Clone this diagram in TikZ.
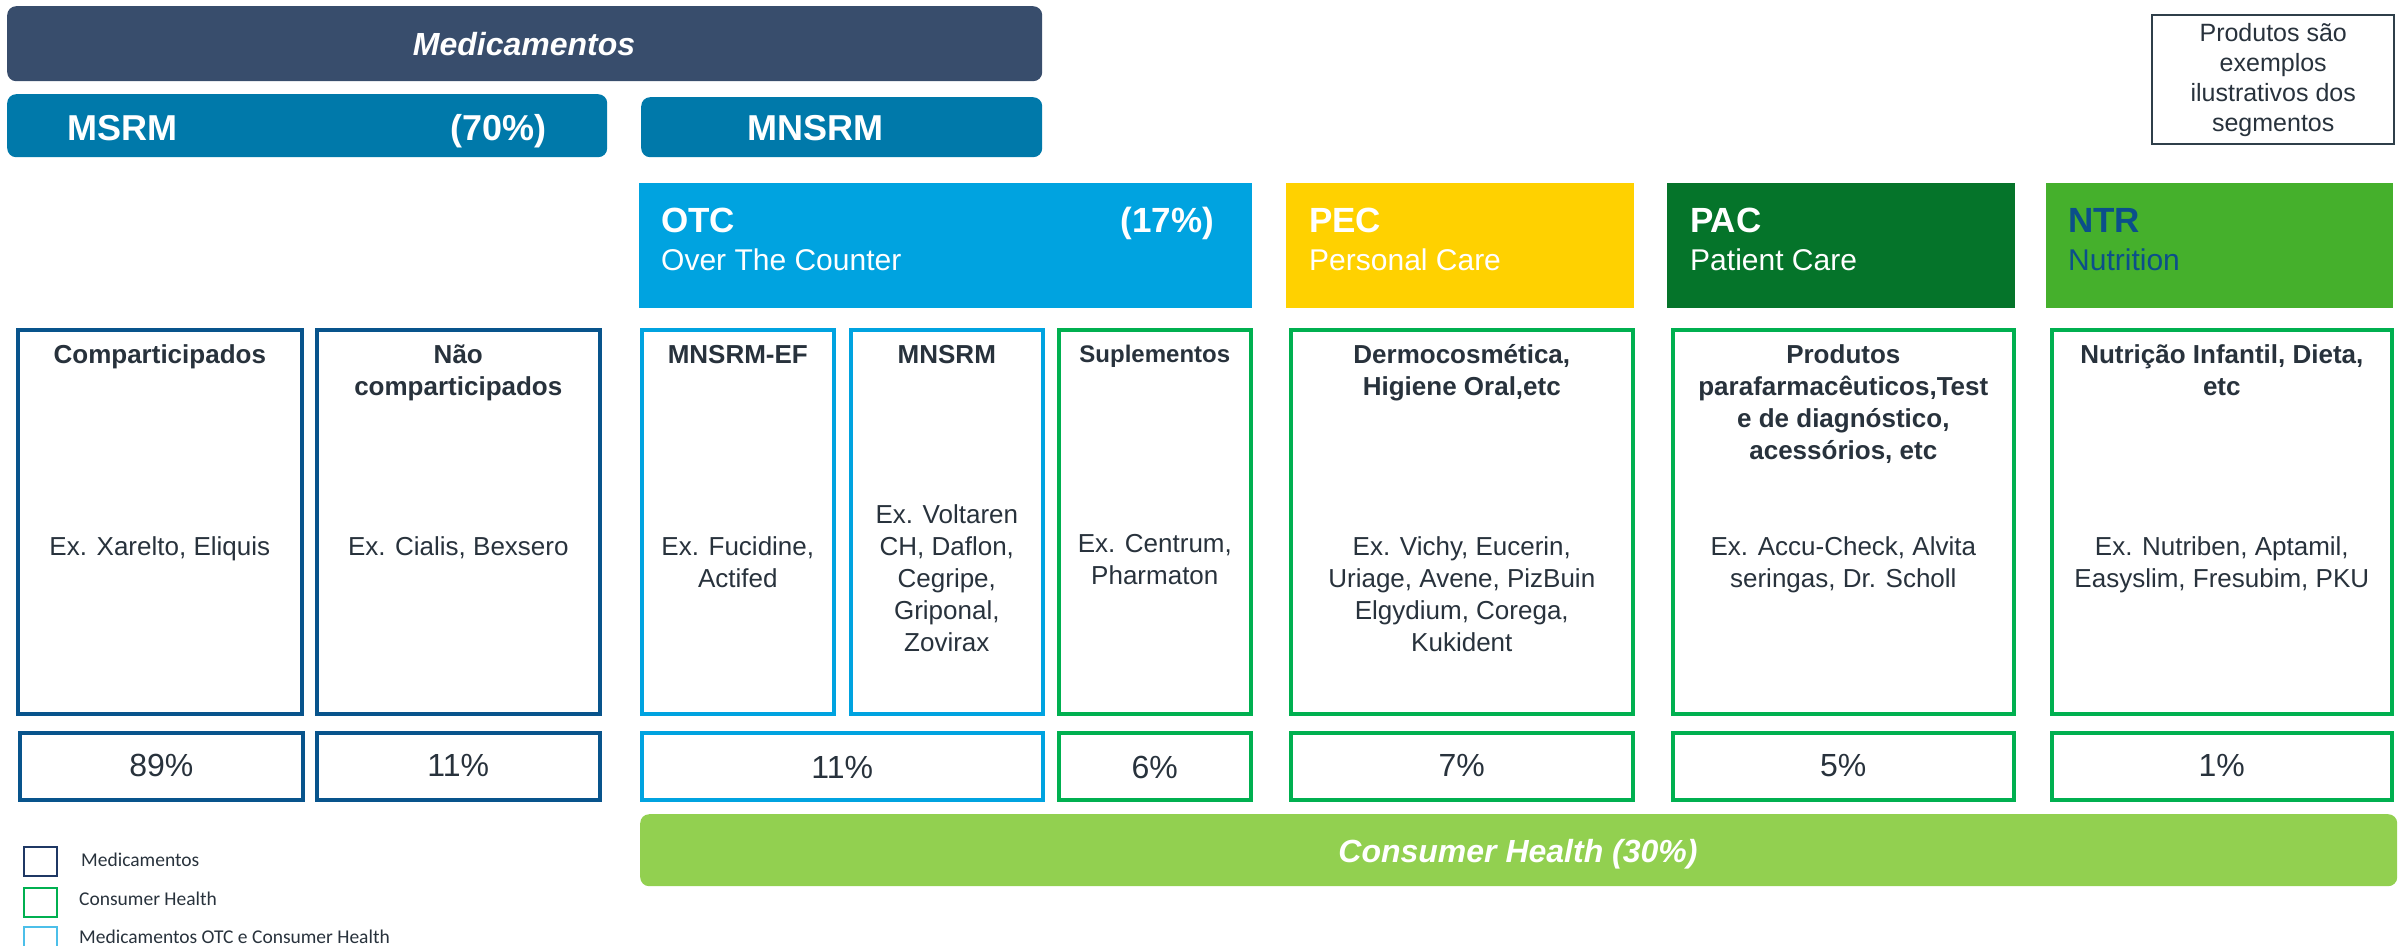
\documentclass[tikz,border=0pt]{standalone}
\usepackage{fontspec}
\setmainfont{Liberation Sans}
\newfontfamily\legfont{Carlito}
\definecolor{txt}{HTML}{28323C}
\definecolor{medbar}{HTML}{384D6C}
\definecolor{msrmc}{HTML}{0079AA}
\definecolor{otcc}{HTML}{00A3E0}
\definecolor{pecc}{HTML}{FFD100}
\definecolor{pacc}{HTML}{05742A}
\definecolor{ntrc}{HTML}{45B02C}
\definecolor{ntrtxt}{HTML}{0B4F8A}
\definecolor{chbar}{HTML}{92D050}
\definecolor{medline}{HTML}{08548C}
\definecolor{navy}{HTML}{1F3864}
\definecolor{blueline}{HTML}{00A3E0}
\definecolor{greenline}{HTML}{00B050}
\definecolor{noteline}{HTML}{2F3F4A}
\tikzset{
  fillbox/.style={draw=none, anchor=north west, inner sep=0pt},
  roundbar/.style={fillbox, rounded corners=9pt},
  outline/.style={draw=#1, line width=3.6pt, fill=white, anchor=north west, inner sep=0pt},
  head/.style={anchor=base, align=center, text=txt, font=\fontsize{26}{32}\selectfont\bfseries, inner sep=0pt},
  body/.style={anchor=base, align=center, text=txt, font=\fontsize{26}{32}\selectfont, inner sep=0pt},
  pct/.style={anchor=base, text=txt, font=\fontsize{32}{38}\selectfont, inner sep=0pt},
  bigw/.style={inner sep=0pt, text=white, font=\fontsize{36}{40}\selectfont\bfseries},
  subw/.style={inner sep=0pt, anchor=base west, text=white, font=\fontsize{30}{34}\selectfont},
  legsq/.style={draw=#1, line width=2.4pt, anchor=north west, inner sep=0pt, minimum width=33pt, minimum height=29pt},
  legtxt/.style={anchor=base west, inner sep=0pt, text=txt, font=\legfont\fontsize{19.5}{22}\selectfont},
}
\begin{document}
\begin{tikzpicture}[x=1pt,y=-1pt]
\useasboundingbox (0,0) rectangle (2405,945);
% top bars
\node[roundbar, fill=medbar, minimum width=1035pt, minimum height=75pt] (medb) at (7,6) {};
\node[anchor=base, inner sep=0pt, text=white, font=\fontsize{32}{36}\selectfont\bfseries\itshape] (medt) at (524,55) {Medicamentos};
\node[roundbar, fill=msrmc, minimum width=600pt, minimum height=63pt] (msrmb) at (7,94) {};
\node[bigw, anchor=base west] (msrmt) at (67,140) {MSRM};
\node[bigw, anchor=base east] (msrmp) at (547,140) {(70\%)};
\node[roundbar, fill=msrmc, minimum width=401pt, minimum height=60pt] (mnsrmb) at (641,97) {};
\node[bigw, anchor=base west] (mnsrmt) at (747,140) {MNSRM};
% category headers
\node[fillbox, fill=otcc, minimum width=613pt, minimum height=125pt] (otcb) at (639,183) {};
\node[bigw, anchor=base west, font=\fontsize{35}{40}\selectfont\bfseries] (otct) at (661,232) {OTC};
\node[bigw, anchor=base east, font=\fontsize{35}{40}\selectfont\bfseries] (otcp) at (1214,232) {(17\%)};
\node[subw] (otcs) at (661,270) {Over The Counter};
\node[fillbox, fill=pecc, minimum width=348pt, minimum height=125pt] (pecb) at (1286,183) {};
\node[bigw, anchor=base west, font=\fontsize{35}{40}\selectfont\bfseries] (pect) at (1309,232) {PEC};
\node[subw] (pecs) at (1309,270) {Personal Care};
\node[fillbox, fill=pacc, minimum width=348pt, minimum height=125pt] (pacb) at (1667,183) {};
\node[bigw, anchor=base west, font=\fontsize{35}{40}\selectfont\bfseries] (pact) at (1690,232) {PAC};
\node[subw] (pacs) at (1690,270) {Patient Care};
\node[fillbox, fill=ntrc, minimum width=347pt, minimum height=125pt] (ntrb) at (2046,183) {};
\node[bigw, anchor=base west, text=ntrtxt, font=\fontsize{35}{40}\selectfont\bfseries] (ntrt) at (2068,232) {NTR};
\node[subw, text=ntrtxt] (ntrs) at (2068,270) {Nutrition};
% content boxes
\node[outline=medline, minimum width=284pt, minimum height=384pt] (comp) at (16,328) {};
\node[outline=medline, minimum width=283pt, minimum height=384pt] (nao) at (315,328) {};
\node[outline=blueline, minimum width=192pt, minimum height=384pt] (ef) at (640,328) {};
\node[outline=blueline, minimum width=192pt, minimum height=384pt] (mns) at (849,328) {};
\node[outline=greenline, minimum width=192pt, minimum height=384pt] (sup) at (1057,328) {};
\node[outline=greenline, minimum width=342pt, minimum height=384pt] (pec) at (1289,328) {};
\node[outline=greenline, minimum width=341pt, minimum height=384pt] (pac) at (1671,328) {};
\node[outline=greenline, minimum width=340pt, minimum height=384pt] (ntr) at (2050,328) {};
% headings (anchor=base is the baseline of the last line)
\node[head] (compH) at (comp.center |- 0,363) {Comparticipados};
\node[head] (naoH) at (nao.center |- 0,395) {Não\\comparticipados};
\node[head] (efH) at (ef.center |- 0,363) {MNSRM-EF};
\node[head] (mnsH) at (mns.center |- 0,363) {MNSRM};
\node[head, font=\fontsize{24}{32}\selectfont\bfseries] (supH) at (sup.center |- 0,362) {Suplementos};
\node[head] (pecH) at (pec.center |- 0,395) {Dermocosmética,\\Higiene Oral,etc};
\node[head] (pacH) at (pac.center |- 0,459) {Produtos\\parafarmacêuticos,Test\\e de diagnóstico,\\acessórios, etc};
\node[head] (ntrH) at (ntr.center |- 0,395) {Nutrição Infantil, Dieta,\\etc};
% bodies
\node[body] (compB) at (comp.center |- 0,555) {Ex. Xarelto, Eliquis};
\node[body] (naoB) at (nao.center |- 0,555) {Ex. Cialis, Bexsero};
\node[body] (efB) at (ef.center |- 0,587) {Ex. Fucidine,\\Actifed};
\node[body] (mnsB) at (mns.center |- 0,651) {Ex. Voltaren\\CH, Daflon,\\Cegripe,\\Griponal,\\Zovirax};
\node[body] (supB) at (sup.center |- 0,584) {Ex. Centrum,\\Pharmaton};
\node[body] (pecB) at (pec.center |- 0,651) {Ex. Vichy, Eucerin,\\Uriage, Avene, PizBuin\\Elgydium, Corega,\\Kukident};
\node[body] (pacB) at (pac.center |- 0,587) {Ex. Accu-Check, Alvita\\seringas, Dr. Scholl};
\node[body] (ntrB) at (ntr.center |- 0,587) {Ex. Nutriben, Aptamil,\\Easyslim, Fresubim, PKU};
% percentage boxes
\node[outline=medline, minimum width=283pt, minimum height=67pt] (p89) at (18,731) {};
\node[outline=medline, minimum width=283pt, minimum height=67pt] (p11a) at (315,731) {};
\node[outline=blueline, minimum width=401pt, minimum height=67pt] (p11b) at (640,731) {};
\node[outline=greenline, minimum width=192pt, minimum height=67pt] (p6) at (1057,731) {};
\node[outline=greenline, minimum width=342pt, minimum height=67pt] (p7) at (1289,731) {};
\node[outline=greenline, minimum width=341pt, minimum height=67pt] (p5) at (1671,731) {};
\node[outline=greenline, minimum width=340pt, minimum height=67pt] (p1) at (2050,731) {};
\node[pct] (t89) at (p89.center |- 0,776) {89\%};
\node[pct] (t11a) at (p11a.center |- 0,776) {11\%};
\node[pct] (t11b) at (p11b.center |- 0,778) {11\%};
\node[pct] (t6) at (p6.center |- 0,778) {6\%};
\node[pct] (t7) at (p7.center |- 0,776) {7\%};
\node[pct] (t5) at (p5.center |- 0,776) {5\%};
\node[pct] (t1) at (p1.center |- 0,776) {1\%};
% consumer health bar
\node[roundbar, fill=chbar, minimum width=1757pt, minimum height=72pt] (chb) at (640,814) {};
\node[anchor=base, inner sep=0pt, text=white, font=\fontsize{32}{36}\selectfont\bfseries\itshape] (cht) at (1518,862) {Consumer Health (30\%)};
% note
\node[draw=noteline, line width=2.4pt, anchor=north west, inner sep=0pt, minimum width=242pt, minimum height=129pt] (note) at (2151,14) {};
\node[anchor=center, align=center, inner sep=0pt, text=txt, font=\fontsize{25}{30}\selectfont] (notet) at (note.center) {Produtos são\\exemplos\\ilustrativos dos\\segmentos};
% legend
\node[legsq=navy] (lg1) at (23,846) {};
\node[legtxt] (lt1) at (81,866) {Medicamentos};
\node[legsq=greenline] (lg2) at (23,887) {};
\node[legtxt] (lt2) at (79,905) {Consumer Health};
\node[legsq=otcc!70] (lg3) at (23,926) {};
\node[legtxt] (lt3) at (79,943) {Medicamentos OTC e Consumer Health};
\end{tikzpicture}
\end{document}
